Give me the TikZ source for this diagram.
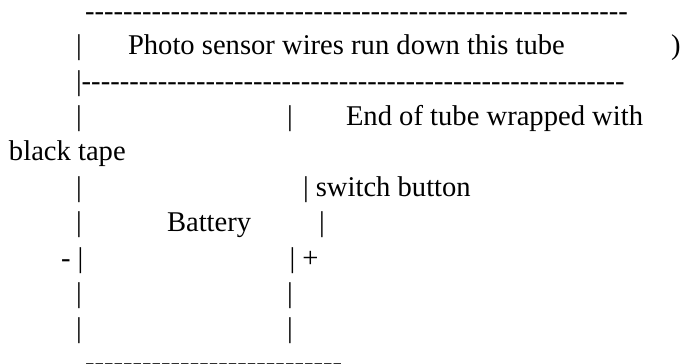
\documentclass[tikz,border=0pt]{standalone}
\usepackage{fontspec}
\newfontfamily\reffont[Ligatures=NoCommon]{Liberation Serif}
\newcommand{\dashrun}[1]{\foreach \i in {1,...,#1}{-\kern0pt}}
\tikzset{line/.style={anchor=base west,inner sep=0pt,outer sep=0pt,font=\reffont\fontsize{28.6pt}{32pt}\selectfont,text=black}}
\begin{document}
\begin{tikzpicture}[x=1pt,y=-1pt]
\useasboundingbox (0,0) rectangle (683,364);
\node[line] (d1) at (85,20) {\dashrun{57}};
\node[line] (b2) at (76,54) {|};
\node[line] (t2) at (128,54) {Photo sensor wires run down this tube};
\node[line] (p2) at (671,54) {)};
\node[line] (d3) at (76,90) {|\dashrun{57}};
\node[line] (b4) at (76,125) {|};
\node[line] (c4) at (287,125) {|};
\node[line] (t4) at (346,125) {End of tube wrapped with};
\node[line] (t5) at (9,160) {black tape};
\node[line] (b6) at (76,196) {|};
\node[line] (t6) at (303,196) {| switch button};
\node[line] (b7) at (76,231) {|};
\node[line] (t7) at (167,231) {Battery};
\node[line] (c7) at (319,231) {|};
\node[line] (m8) at (61,267) {- |};
\node[line] (c8) at (289.6,267) {| +};
\node[line] (b9) at (76,302) {|};
\node[line] (c9) at (287,302) {|};
\node[line] (b10) at (76,337) {|};
\node[line] (c10) at (287,337) {|};
\node[line] (d11) at (85,371.3) {\dashrun{27}};
\end{tikzpicture}
\end{document}
